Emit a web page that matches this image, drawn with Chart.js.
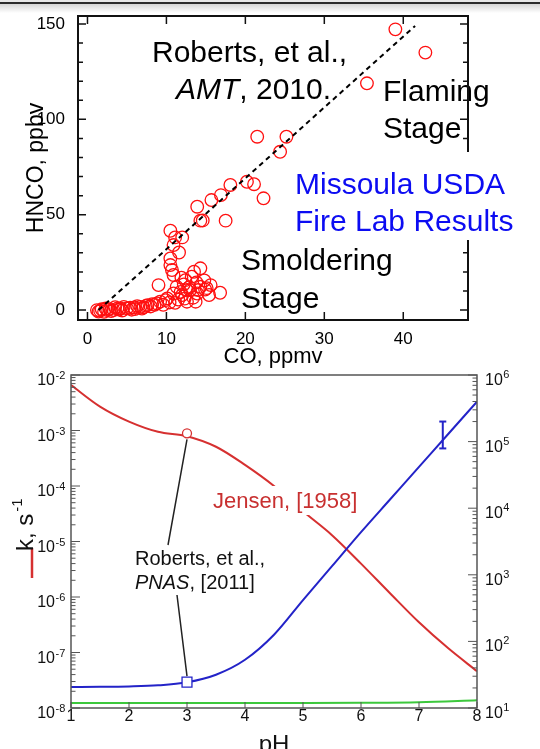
<!DOCTYPE html>
<html>
<head>
<meta charset="utf-8">
<script src="https://cdn.jsdelivr.net/npm/chart.js@4.4.1/dist/chart.umd.min.js"></script>
<style>
  html, body { margin: 0; padding: 0; background: #fff; width: 540px; height: 749px; overflow: hidden; }
  #topbar { position: absolute; left: 0; top: 0; width: 540px; height: 13px;
    background: linear-gradient(#e6e6e6 0px, #e6e6e6 2px, #2a2a2a 2px, #2a2a2a 4px, #d4d4d4 4px, #ffffff 13px); }
  #hnco { position: absolute; left: 0; top: 0; }
  #kph { position: absolute; left: 0; top: 360px; }
</style>
</head>
<body>
<div id="topbar"></div>
<canvas id="hnco" width="540" height="372"></canvas>
<canvas id="kph" width="540" height="400"></canvas>
<script>
const sans = "'Liberation Sans', Arial, Helvetica, sans-serif";
Chart.defaults.font.family = sans;

// ---- top panel: HNCO vs CO (Missoula fire lab)
const coPpmv = [39.0, 42.8, 35.4, 21.5, 25.2, 24.4, 20.2, 21.1, 22.3, 18.1, 16.9, 15.7, 17.5, 13.9, 14.3, 14.6,
  10.5, 11.1, 12.0, 10.9, 11.6, 10.5, 10.5, 10.7, 10.9, 14.3, 13.5, 13.2, 12.4, 9.0, 11.3, 12.6, 14.3, 15.6,
  16.8, 15.4, 13.9, 13.0, 12.0, 10.9, 10.1, 11.1, 12.6, 13.7, 8.8, 7.6, 6.7, 5.9, 5.0, 4.2, 3.3, 2.5, 1.6,
  1.2, 2.1, 3.8, 4.6, 6.3, 7.1, 8.2, 9.2, 9.9, 13.8, 14.8, 12.2, 14.0, 11.8, 2.8, 4.0, 5.4, 6.0, 7.4, 8.5, 1.8, 3.0,
  11.9, 12.9, 14.9, 15.1, 13.4, 12.3, 11.5, 10.4, 9.6, 8.0, 6.9, 5.6, 4.4, 3.5, 2.3, 1.4];
const hncoPpbv = [147.2, 135, 118.9, 90.9, 90.9, 83, 67.3, 66, 58.6, 65.6, 60.3, 57.7, 46.9, 54.2, 46.9, 47,
  41.6, 38.1, 38.1, 34.1, 30.2, 27.1, 23.6, 21, 18.4, 21.9, 20.1, 17.5, 15.7, 13.1, 12.2, 10.5, 12.2, 13.1,
  9.1, 7.9, 8.7, 10.5, 7.9, 8.7, 6.1, 3.8, 4.4, 4.4, 3.5, 2.6, 1.7, 1.4, 0.9, 0.9, 0, 0, -0.3,
  0, -0.9, 0.9, 1.7, 2.1, 1.4, 3.1, 4.4, 5.2, 14.5, 15.5, 13.5, 10.5, 9.5, 0.5, 0.3, 1.2, 0.5, 2.2, 2.8, 0.4, -0.5,
  17.0, 12.0, 10.8, 11.5, 6.5, 6.0, 5.5, 4.0, 2.8, 1.9, 0.8, 0.2, -0.2, 1.5, 0.8, -0.8];
const fitCo = [1.4, 41.5];
const fitHnco = [0, 149];
const coTicks = [0, 10, 20, 30, 40];
const hncoTicks = [0, 50, 100, 150];
const hncoMinor = [0, 10, 20, 30, 40, 50, 60, 70, 80, 90, 100, 110, 120, 130, 140, 150];

// ---- bottom panel: k and H* vs pH
const phGrid = [1, 1.5, 2, 2.5, 3, 3.5, 4, 4.5, 5, 5.5, 6, 6.5, 7, 7.5, 8];
const jensenK = [6.6e-3, 2.7e-3, 1.45e-3, 9.5e-4, 7.9e-4, 5.1e-4, 2.4e-4, 1.0e-4, 3.5e-5, 1.3e-5, 4.0e-6, 1.17e-6, 3.5e-7, 1.2e-7, 4.6e-8];
const henryH = [20.7, 20.8, 21.1, 21.9, 24.3, 31.6, 53, 126, 417, 1350, 4370, 13500, 41700, 129000, 398000];
const greenPh = [1, 2, 3, 4, 5, 6, 7, 8];
const greenK = [1.23e-8, 1.23e-8, 1.23e-8, 1.23e-8, 1.23e-8, 1.24e-8, 1.27e-8, 1.38e-8];
const circlePh = [3], circleK = [8.9e-4];
const squarePh = [3], squareH = [24.5];
const errPh = [7.41, 7.41], errH = [7.9e4, 2.0e5];
const phTicks = [1, 2, 3, 4, 5, 6, 7, 8];
const kDecades = [-8, -7, -6, -5, -4, -3, -2];
const hDecades = [1, 2, 3, 4, 5, 6];

const topDecor = {
  id: 'topDecor',
  afterDraw(chart) {
    const {ctx, chartArea: a, scales: {x, y}} = chart;
    ctx.save();
    ctx.fillStyle = '#000';
    ctx.textAlign = 'left';
    ctx.textBaseline = 'alphabetic';
    ctx.font = `30px ${sans}`;
    ctx.fillText('Roberts, et al.,', 152, 62);
    ctx.font = `italic 30px ${sans}`;
    ctx.fillText('AMT', 176, 99);
    const w = ctx.measureText('AMT').width;
    ctx.font = `30px ${sans}`;
    ctx.fillText(', 2010.', 176 + w, 99);
    ctx.fillText('Flaming', 383, 101);
    ctx.fillText('Stage', 383, 138);
    ctx.fillText('Smoldering', 241, 270);
    ctx.fillText('Stage', 241, 308);

    // frame + inward ticks
    ctx.strokeStyle = '#111';
    ctx.lineWidth = 2;
    ctx.strokeRect(a.left, a.top, a.right - a.left, a.bottom - a.top);
    ctx.lineWidth = 1.5;
    ctx.beginPath();
    hncoMinor.forEach(v => {
      const py = y.getPixelForValue(v);
      const len = hncoTicks.includes(v) ? 8 : 5;
      ctx.moveTo(a.left, py); ctx.lineTo(a.left + len, py);
      ctx.moveTo(a.right, py); ctx.lineTo(a.right - len, py);
    });
    coTicks.forEach(v => {
      const px = x.getPixelForValue(v);
      ctx.moveTo(px, a.bottom); ctx.lineTo(px, a.bottom - 8);
      ctx.moveTo(px, a.top); ctx.lineTo(px, a.top + 8);
    });
    ctx.stroke();

    // blue label sits on a white box over the frame
    ctx.fillStyle = '#fff';
    ctx.fillRect(290, 152, 240, 88);
    ctx.fillStyle = '#0c0cf2';
    ctx.fillText('Missoula USDA', 295, 194);
    ctx.fillText('Fire Lab Results', 295, 231);
    ctx.restore();
  }
};

new Chart(document.getElementById('hnco'), {
  type: 'scatter',
  data: {
    datasets: [{
      type: 'line',
      data: fitCo.map((v, i) => ({x: v, y: fitHnco[i]})),
      borderColor: '#000',
      borderWidth: 2,
      borderDash: [5, 4],
      pointRadius: 0,
      fill: false
    }, {
      data: coPpmv.map((v, i) => ({x: v, y: hncoPpbv[i]})),
      pointStyle: 'circle',
      pointRadius: 6.3,
      pointBorderWidth: 1.3,
      borderColor: '#ff1010',
      backgroundColor: 'rgba(255,255,255,0)'
    }]
  },
  options: {
    responsive: false,
    animation: false,
    layout: {padding: {left: 0, right: 72, top: 16, bottom: 0}},
    plugins: {legend: {display: false}, tooltip: {enabled: false}},
    scales: {
      x: {
        type: 'linear', min: -1.2, max: 48.2,
        afterBuildTicks: s => { s.ticks = coTicks.map(v => ({value: v})); },
        afterFit: s => { s.height = 52; },
        grid: {display: false}, border: {display: false},
        ticks: {color: '#000', font: {size: 17}, padding: 1, maxRotation: 0},
        title: {display: true, text: 'CO, ppmv', color: '#000', font: {size: 22}, padding: {top: 0, bottom: 2}}
      },
      y: {
        type: 'linear', min: -5.2, max: 154.2,
        afterBuildTicks: s => { s.ticks = hncoTicks.map(v => ({value: v})); },
        afterFit: s => { s.width = 78; },
        grid: {display: false}, border: {display: false},
        ticks: {color: '#000', font: {size: 17}, padding: 5},
        title: {display: true, text: 'HNCO, ppbv', color: '#000', font: {size: 23}, padding: {top: 23, bottom: 0}}
      }
    }
  },
  plugins: [topDecor]
});

const red = '#d63030', blue = '#2323c8', green = '#3cc83c';

const bottomDecor = {
  id: 'bottomDecor',
  afterDraw(chart) {
    const {ctx, chartArea: a, scales: {x, y, y2}} = chart;
    ctx.save();

    // frame and inward ticks
    ctx.strokeStyle = '#555';
    ctx.lineWidth = 1.5;
    ctx.strokeRect(a.left, a.top, a.right - a.left, a.bottom - a.top);
    ctx.lineWidth = 1;
    ctx.beginPath();
    kDecades.forEach(e => {
      const py = y.getPixelForValue(Math.pow(10, e));
      ctx.moveTo(a.left, py); ctx.lineTo(a.left + 9, py);
      if (e < -2) {
        for (let m = 2; m <= 9; m++) {
          const pm = y.getPixelForValue(m * Math.pow(10, e));
          ctx.moveTo(a.left, pm); ctx.lineTo(a.left + 4.5, pm);
        }
      }
    });
    hDecades.forEach(e => {
      const py = y2.getPixelForValue(Math.pow(10, e));
      ctx.moveTo(a.right, py); ctx.lineTo(a.right - 9, py);
      if (e < 6) {
        for (let m = 2; m <= 9; m++) {
          const pm = y2.getPixelForValue(m * Math.pow(10, e));
          ctx.moveTo(a.right, pm); ctx.lineTo(a.right - 4.5, pm);
        }
      }
    });
    phTicks.forEach(v => {
      const px = x.getPixelForValue(v);
      ctx.moveTo(px, a.bottom); ctx.lineTo(px, a.bottom - 6);
    });
    ctx.stroke();

    // power-of-ten tick labels
    ctx.fillStyle = '#111';
    ctx.textBaseline = 'alphabetic';
    kDecades.forEach(e => {
      const py = y.getPixelForValue(Math.pow(10, e));
      ctx.font = `16px ${sans}`;
      ctx.textAlign = 'right';
      ctx.fillText('10', 55, py + 10);
      ctx.font = `11px ${sans}`;
      ctx.textAlign = 'left';
      ctx.fillText(String(e), 55.5, py + 4);
    });
    hDecades.forEach(e => {
      const py = y2.getPixelForValue(Math.pow(10, e));
      ctx.font = `16px ${sans}`;
      ctx.textAlign = 'left';
      ctx.fillText('10', 485, py + 10);
      const w = ctx.measureText('10').width;
      ctx.font = `11px ${sans}`;
      ctx.fillText(String(e), 485 + w + 0.5, py + 3);
    });

    // left axis title with red line key
    ctx.strokeStyle = red;
    ctx.lineWidth = 2.5;
    ctx.beginPath();
    ctx.moveTo(32, 188); ctx.lineTo(32, 218);
    ctx.stroke();
    ctx.save();
    ctx.translate(33, 191);
    ctx.rotate(-Math.PI / 2);
    ctx.fillStyle = '#111';
    ctx.font = `24px ${sans}`;
    ctx.textAlign = 'left';
    ctx.fillText('k, s', 0, 0);
    const tw = ctx.measureText('k, s').width;
    ctx.font = `15px ${sans}`;
    ctx.fillText('-1', tw + 2, -11);
    ctx.restore();

    // Jensen label over the red curve
    ctx.fillStyle = '#fff';
    ctx.fillRect(208, 126, 160, 29);
    ctx.fillStyle = '#c83030';
    ctx.font = `22px ${sans}`;
    ctx.textAlign = 'left';
    ctx.fillText('Jensen, [1958]', 213, 148);

    // Roberts PNAS callout
    ctx.fillStyle = '#111';
    ctx.font = `20px ${sans}`;
    ctx.fillText('Roberts, et al.,', 135, 205);
    ctx.font = `italic 20px ${sans}`;
    ctx.fillText('PNAS', 135, 229);
    const pw = ctx.measureText('PNAS').width;
    ctx.font = `20px ${sans}`;
    ctx.fillText(', [2011]', 135 + pw, 229);

    const cx = x.getPixelForValue(circlePh[0]), cy = y.getPixelForValue(circleK[0]);
    const sx = x.getPixelForValue(squarePh[0]), sy = y2.getPixelForValue(squareH[0]);
    ctx.strokeStyle = '#222';
    ctx.lineWidth = 1.5;
    ctx.beginPath();
    ctx.moveTo(cx, cy + 6); ctx.lineTo(168, 185);
    ctx.moveTo(177, 235); ctx.lineTo(sx, sy - 6);
    ctx.stroke();
    ctx.restore();
  }
};

new Chart(document.getElementById('kph'), {
  type: 'line',
  data: {
    datasets: [{
      data: errPh.map((v, i) => ({x: v, y: errH[i]})),
      yAxisID: 'y2',
      borderColor: blue, borderWidth: 2,
      pointStyle: 'line', pointRadius: 3.5, pointBorderWidth: 2, pointBorderColor: blue
    }, {
      data: squarePh.map((v, i) => ({x: v, y: squareH[i]})),
      yAxisID: 'y2', showLine: false,
      pointStyle: 'rect', pointRadius: 7, pointBorderWidth: 1.3,
      pointBorderColor: blue, pointBackgroundColor: '#fff'
    }, {
      data: circlePh.map((v, i) => ({x: v, y: circleK[i]})),
      yAxisID: 'y', showLine: false,
      pointStyle: 'circle', pointRadius: 4.5, pointBorderWidth: 1.3,
      pointBorderColor: red, pointBackgroundColor: '#fff'
    }, {
      data: phGrid.map((v, i) => ({x: v, y: henryH[i]})),
      yAxisID: 'y2', borderColor: blue, borderWidth: 2, pointRadius: 0,
      cubicInterpolationMode: 'monotone'
    }, {
      data: phGrid.map((v, i) => ({x: v, y: jensenK[i]})),
      yAxisID: 'y', borderColor: red, borderWidth: 2, pointRadius: 0,
      cubicInterpolationMode: 'monotone'
    }, {
      data: greenPh.map((v, i) => ({x: v, y: greenK[i]})),
      yAxisID: 'y', borderColor: green, borderWidth: 2, pointRadius: 0,
      cubicInterpolationMode: 'monotone'
    }]
  },
  options: {
    responsive: false,
    animation: false,
    layout: {padding: {left: 0, right: 0, top: 15, bottom: 0}},
    plugins: {legend: {display: false}, tooltip: {enabled: false}},
    scales: {
      x: {
        type: 'linear', min: 1, max: 8,
        afterBuildTicks: s => { s.ticks = phTicks.map(v => ({value: v})); },
        afterFit: s => { s.height = 52; },
        grid: {display: false}, border: {display: false},
        ticks: {color: '#111', font: {size: 16}, padding: -9, maxRotation: 0},
        title: {display: true, text: 'pH', color: '#111', font: {size: 24}, padding: {top: 0, bottom: 0}}
      },
      y: {
        type: 'logarithmic', position: 'left', min: 1e-8, max: 1e-2,
        afterFit: s => { s.width = 71; },
        grid: {display: false}, border: {display: false},
        ticks: {display: false}
      },
      y2: {
        type: 'logarithmic', position: 'right', min: 10, max: 1e6,
        afterFit: s => { s.width = 63; },
        grid: {display: false}, border: {display: false},
        ticks: {display: false}
      }
    }
  },
  plugins: [bottomDecor]
});
</script>
</body>
</html>
